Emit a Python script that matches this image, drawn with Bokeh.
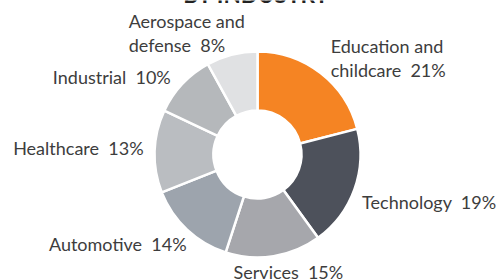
import numpy as np
from bokeh.plotting import figure
from bokeh.models import Range1d, ColumnDataSource
from bokeh.core.properties import value
from bokeh.embed import file_html
from bokeh.resources import INLINE

# ---- data ----
title = "BY INDUSTRY"
categories = ["Education and\nchildcare", "Technology", "Services", "Automotive",
              "Healthcare", "Industrial", "Aerospace and\ndefense"]
shares = [21, 19, 15, 14, 13, 10, 8]
colors = ["#F58423", "#4D515B", "#A6A7AC", "#9DA4AD", "#BABDC1", "#B5B8BB", "#E0E1E3"]

# ---- layout / style ----
W, H = 500, 280
CX, CY = 257, 126          # donut centre (data units == pixels)
R_OUT, R_IN = 103, 44
R_LBL = 108
FONT = "Lato"
aligns = ["left", "left", "center", "right", "right", "right", "left"]
nudges = [(7, 11), (3, -11), (14, -10.5), (3, -11), (-6, 3), (-8, 4), (-102, 17)]

p = figure(width=W, height=H, output_backend="svg", toolbar_location=None,
           x_range=Range1d(0, W), y_range=Range1d(0, H),
           x_axis_type=None, y_axis_type=None, min_border=0,
           min_border_left=0, min_border_right=0, min_border_top=0, min_border_bottom=0,
           outline_line_color=None)
p.grid.visible = False
p.background_fill_color = "white"
p.border_fill_color = "white"

total = float(sum(shares))
cum = np.cumsum([0] + shares) / total
starts = np.pi / 2 - 2 * np.pi * cum[:-1]
ends = np.pi / 2 - 2 * np.pi * cum[1:]
mids = (starts + ends) / 2

src = ColumnDataSource(dict(start=starts, end=ends, color=colors))
p.annular_wedge(x=CX, y=CY, inner_radius=R_IN, outer_radius=R_OUT,
                start_angle="start", end_angle="end", direction="clock",
                fill_color="color", line_color="white", line_width=2.5, source=src)

lx = [CX + R_LBL * np.cos(a) + n[0] for a, n in zip(mids, nudges)]
ly = [CY + R_LBL * np.sin(a) + n[1] for a, n in zip(mids, nudges)]
labels = [f"{c}\u00a0 {s}%" for c, s in zip(categories, shares)]
lsrc = ColumnDataSource(dict(x=lx, y=ly, text=labels, align=aligns))
p.text(x="x", y="y", text="text", text_align="align", text_baseline="middle",
       text_font=value(FONT), text_font_size="18px", text_color="#3d3d3d",
       text_line_height=1.07, source=lsrc)

# title, mostly cut off at the top as in the reference
p.text(x=[256], y=[H + 6], text=[title], text_align="center",
       text_baseline="alphabetic", text_font=value(FONT), text_font_style="bold",
       text_font_size="22.5px", text_color="#222222")

open("out.html", "w").write(file_html(p, INLINE))
